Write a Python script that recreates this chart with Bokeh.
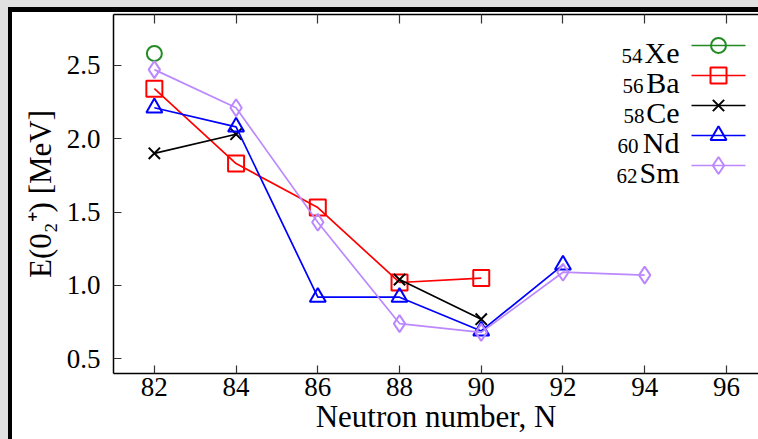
from bokeh.plotting import figure
from bokeh.models import Range1d, LinearAxis, FixedTicker, Label, NumeralTickFormatter, CustomJSTickFormatter
from bokeh.layouts import column
from bokeh.embed import file_html
from bokeh.resources import INLINE

# ---- data ----
N_xe = [82]
E_xe = [2.58]
N_ba = [82, 84, 86, 88, 90]
E_ba = [2.34, 1.83, 1.53, 1.02, 1.05]
N_ce = [82, 84, 86, 88, 90]
E_ce = [1.90, 2.03, float("nan"), 1.04, 0.77]   # no value at N=86
N_nd = [82, 84, 86, 88, 90, 92]
E_nd = [2.21, 2.08, 0.92, 0.92, 0.69, 1.14]
N_sm = [82, 84, 86, 88, 90, 92, 94]
E_sm = [2.47, 2.21, 1.43, 0.74, 0.68, 1.09, 1.07]

x_ticks = [82, 84, 86, 88, 90, 92, 94, 96]
y_ticks = [0.5, 1.0, 1.5, 2.0, 2.5]
sub_labels = ["54", "56", "58", "60", "62"]
elem_labels = ["Xe", "Ba", "Ce", "Nd", "Sm"]
colors = ["#228b22", "#ff0000", "#000000", "#0000ff", "#bb88ff"]
markers = ["circle", "square", "x", "triangle", "diamond"]
msizes = [15, 16, 16, 16, 17]

FONT = "Liberation Serif"

# ---- geometry ----
W, H = 746, 427
ML, MT, MB = 101, 2, 66
FW, FH = W - ML, H - MT - MB
X0, X1 = 81.0, 81.0 + FW / 40.86
Y0, Y1 = 0.40, 0.40 + FH / 146.8

p = figure(width=W, height=H, output_backend="svg", toolbar_location=None,
           x_range=Range1d(X0, X1), y_range=Range1d(Y0, Y1),
           min_border_left=ML, min_border_top=MT, min_border_bottom=MB, min_border_right=0,
           background_fill_color="white", border_fill_color="white")
p.grid.visible = False
p.outline_line_color = None

for ax in (p.xaxis[0], p.yaxis[0]):
    ax.major_tick_in = 8
    ax.major_tick_out = 0
    ax.minor_tick_in = 0
    ax.minor_tick_out = 0
    ax.axis_line_color = "black"
    ax.axis_line_width = 1.5
    ax.major_tick_line_color = "#333333"
    ax.major_tick_line_width = 1.2
    ax.major_label_text_font = FONT
    ax.major_label_text_font_size = "27px"
    ax.major_label_text_color = "black"
    ax.axis_label_text_font = FONT
    ax.axis_label_text_font_size = "31px"
    ax.axis_label_text_font_style = "normal"
    ax.axis_label_text_color = "black"

p.xaxis.ticker = FixedTicker(ticks=x_ticks)
p.yaxis.ticker = FixedTicker(ticks=y_ticks)
p.yaxis.formatter = NumeralTickFormatter(format="0.0")
p.xaxis.major_label_standoff = 4
p.yaxis.major_label_standoff = 13
p.xaxis.axis_label = "Neutron number, N"
p.xaxis.axis_label_standoff = 0
p.yaxis.axis_label = "E(0₂⁺) [MeV]"
p.yaxis.axis_label_standoff = 6

top = LinearAxis(ticker=FixedTicker(ticks=x_ticks),
                 formatter=CustomJSTickFormatter(code="return ''"),
                 major_label_text_font_size="0px", major_label_standoff=0,
                 major_tick_in=9, major_tick_out=0, minor_tick_in=0, minor_tick_out=0,
                 axis_line_color="black", axis_line_width=1.5,
                 major_tick_line_color="#333333", major_tick_line_width=1.2)
p.add_layout(top, "above")

series = [(N_xe, E_xe), (N_ba, E_ba), (N_ce, E_ce), (N_nd, E_nd), (N_sm, E_sm)]
for (xs, ys), c, m, s in zip(series, colors, markers, msizes):
    if len(xs) > 1:
        p.line(xs, ys, line_color=c, line_width=1.7)
    p.scatter(xs, ys, marker=m, size=s, line_color=c, fill_color=None, line_width=2)

OX, OY = 12, 12  # figure origin inside the page

def dx(px):
    return X0 + (px - OX - ML) / FW * (X1 - X0)

def dy(py):
    return Y1 - (py - OY - MT) / FH * (Y1 - Y0)

# ---- manual legend (text on the left, sample on the right) ----
rows = [45, 75, 105, 135, 165]
elem_w = {"Xe": 37, "Ba": 36, "Ce": 35, "Nd": 41, "Sm": 42}
for py, sub, el, c, m, s in zip(rows, sub_labels, elem_labels, colors, markers, msizes):
    p.line([dx(691), dx(745)], [dy(py), dy(py)], line_color=c, line_width=1.7)
    p.scatter([dx(718)], [dy(py)], marker=m, size=s, line_color=c, fill_color=None, line_width=2)
    p.add_layout(Label(x=dx(679), y=dy(py + 7), text=el, text_align="right",
                       text_baseline="alphabetic", text_font=FONT, text_font_size="30px",
                       text_color="black"))
    p.add_layout(Label(x=dx(679 - elem_w[el]), y=dy(py + 10), text=sub,
                       text_align="right", text_baseline="alphabetic", text_font=FONT,
                       text_font_size="21px", text_color="black"))

inner = column(p, styles={"border-left": "4px solid black", "border-top": "5px solid black",
                          "background-color": "white"})
outer = column(inner, styles={"padding-left": "8px", "padding-top": "7px",
                              "background-color": "#e1e1e1"})

open("out.html", "w").write(file_html(outer, INLINE))
